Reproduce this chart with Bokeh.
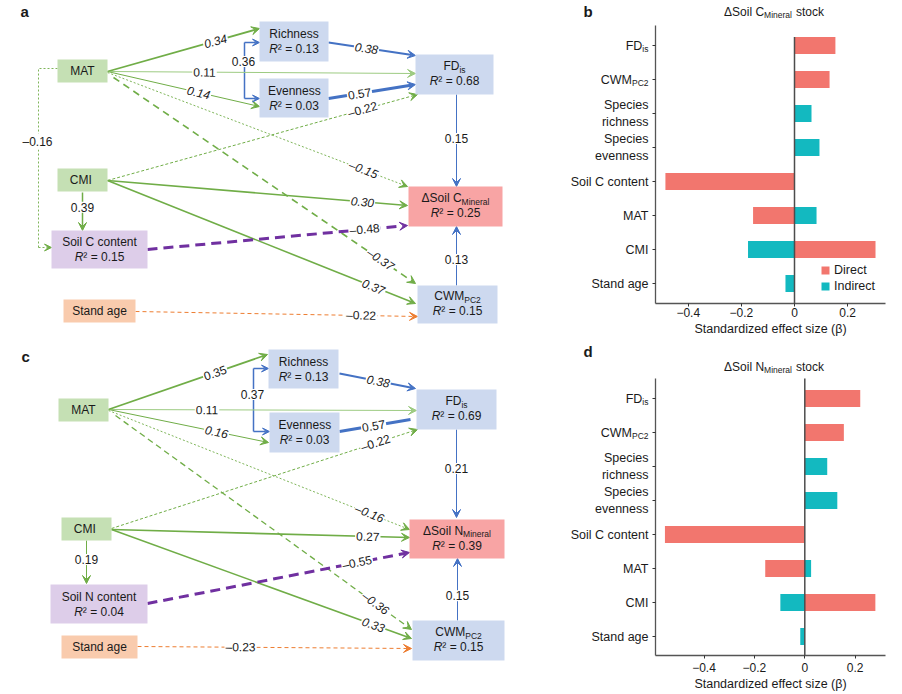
import math
from bokeh.plotting import figure
from bokeh.models import (Range1d, Arrow, VeeHead, ColumnDataSource, FixedTicker,
                          Legend, LegendItem)
from bokeh.layouts import row, column
from bokeh.embed import file_html
from bokeh.resources import INLINE
from bokeh.core.properties import value, field

FONT = "Liberation Sans"
TXT = "#1a1a1a"

# ---------------- data: bar charts (b, d) ----------------
bar_categories = ["FDis", "CWMPC2", "Species richness", "Species evenness",
                  "Soil C content", "MAT", "CMI", "Stand age"]
carbon_direct = [0.154, 0.132, 0.0, 0.0, -0.486, -0.156, 0.305, 0.0]
carbon_indirect = [0.0, 0.0, 0.064, 0.094, 0.0, 0.083, -0.175, -0.034]
nitrogen_direct = [0.22, 0.155, 0.0, 0.0, -0.555, -0.157, 0.28, 0.0]
nitrogen_indirect = [0.0, 0.0, 0.089, 0.129, 0.0, 0.025, -0.097, -0.018]
x_tick_values = [-0.4, -0.2, 0.0, 0.2]
x_tick_labels = ["\u22120.4", "\u22120.2", "0", "0.2"]

# ---------------- data: path models (a, c) ----------------
r2_a = {"Richness": 0.13, "Evenness": 0.03, "FD": 0.68, "Soil": 0.15, "Delta": 0.25, "CWM": 0.15}
coef_a = [0.34, 0.11, 0.14, -0.15, -0.37, 0.38, 0.57, -0.22, 0.15, 0.30, 0.37, 0.39, -0.48, 0.13, -0.22]
coef_a_mat_soil = -0.16
coef_a_rich_even = 0.36

r2_c = {"Richness": 0.13, "Evenness": 0.03, "FD": 0.69, "Soil": 0.04, "Delta": 0.39, "CWM": 0.15}
coef_c = [0.35, 0.11, 0.16, -0.16, -0.36, 0.38, 0.57, -0.22, 0.21, 0.27, 0.33, 0.19, -0.55, 0.15, -0.23]
coef_c_rich_even = 0.37

# ---------------- styles ----------------
GREEN, LGREEN, BLUE, PURPLE, ORANGE = "#70AD47", "#9DCB82", "#4472C4", "#7030A0", "#ED7D31"
B_GREEN, B_BLUE, B_PURPLE, B_PEACH, B_RED = "#C5E0B4", "#CDD9EF", "#DDCDE9", "#F9CBAD", "#F8A4A4"
BAR_RED, BAR_TEAL = "#F2766E", "#13B9C0"

AW = {' ': .278, '.': .278, '=': .584, '\u00b2': .333, '\u2013': .556, '\u2212': .584, '\u0394': .668,
      'A': .667, 'C': .722, 'D': .722, 'F': .611, 'M': .833, 'N': .722, 'P': .667, 'R': .722,
      'S': .667, 'W': .944, 'a': .556, 'c': .5, 'e': .556, 'i': .222, 'k': .5, 'l': .222,
      'n': .556, 'o': .556, 'r': .333, 's': .5, 't': .278}


def tw(s, size):
    return sum(AW.get(ch, 0.556) for ch in s) * size


def fmt(v):
    return ("\u2013" if v < 0 else "") + f"{abs(v):.2f}"


def new_items():
    return dict(x=[], y=[], text=[], size=[], style=[], align=[])


def put(items, x, y, t, s, st="normal", al="left"):
    items["x"].append(x)
    items["y"].append(y)
    items["text"].append(t)
    items["size"].append(f"{s}px")
    items["style"].append(st)
    items["align"].append(al)


def rich(items, cx, y, parts):
    total = sum(tw(t, s) for t, s, st, dy in parts)
    x = cx - total / 2
    for t, s, st, dy in parts:
        put(items, x, y + dy, t, s, st)
        x += tw(t, s)


def draw_items(p, items):
    p.text(x="x", y="y", text="text", source=ColumnDataSource(items), text_font=value(FONT),
           text_font_size=field("size"), text_font_style=field("style"), text_align=field("align"),
           text_baseline="middle", text_color=TXT)


def make_path(top, bottom, nodes, node_lines, r2, edges, coefs, letter, letter_pos,
              connector, connector_coef, elbow=None, elbow_coef=None, elbow_label=None):
    p = figure(width=560, height=bottom - top, x_range=Range1d(0, 560), y_range=Range1d(bottom, top),
               x_axis_type=None, y_axis_type=None, toolbar_location=None, output_backend="svg",
               min_border=0, title=None)
    p.outline_line_color = None
    names = list(nodes)
    p.quad(left=[nodes[n][0] for n in names], right=[nodes[n][2] for n in names],
           top=[nodes[n][1] for n in names], bottom=[nodes[n][3] for n in names],
           fill_color=[nodes[n][4] for n in names], line_color=None)

    items = new_items()
    for n in names:
        x0, y0, x1, y1, _ = nodes[n]
        cx, cy = (x0 + x1) / 2, (y0 + y1) / 2
        parts = node_lines[n]
        if n in r2:
            sub = len(parts) > 1
            rich(items, cx, cy - (8.5 if sub else 7.5), parts)
            rich(items, cx, cy + (6.5 if sub else 7.5),
                 [("R", 12, "italic", 0), ("\u00b2 = " + f"{r2[n]:.2f}", 12, "normal", 0)])
        else:
            rich(items, cx, cy, parts)
    put(items, letter_pos[0], letter_pos[1], letter, 15, "bold")
    draw_items(p, items)

    lab = dict(x=[], y=[], text=[], style=[], angle=[])
    for (x0, y0, x1, y1, col, w, dash, t, ital, head), c in zip(edges, coefs):
        end = VeeHead(size=8, line_color=col, fill_color=col, line_width=1) if head else None
        p.add_layout(Arrow(end=end, x_start=x0, y_start=y0, x_end=x1, y_end=y1,
                           line_color=col, line_width=w, line_dash=dash, level="underlay"))
        lab["x"].append(x0 + t * (x1 - x0))
        lab["y"].append(y0 + t * (y1 - y0))
        lab["text"].append(fmt(c))
        lab["style"].append("italic" if ital else "normal")
        lab["angle"].append(0.0 if abs(x1 - x0) < 2 else math.atan2(-(y1 - y0), x1 - x0))

    cxp, ya, yb, xr_a, xr_b, ly = connector
    p.line([cxp, cxp], [ya, yb], line_color=BLUE, line_width=1.5, level="underlay")
    for yy, xe in ((ya, xr_a), (yb, xr_b)):
        p.add_layout(Arrow(end=VeeHead(size=7, line_color=BLUE, fill_color=BLUE, line_width=1),
                           x_start=cxp, y_start=yy, x_end=xe, y_end=yy, line_color=BLUE,
                           line_width=1.5, level="underlay"))
    lab["x"].append(cxp - 1); lab["y"].append(ly); lab["text"].append(fmt(connector_coef))
    lab["style"].append("normal"); lab["angle"].append(0.0)

    if elbow is not None:
        ex, ey = elbow
        p.line(ex[:-1], ey[:-1], line_color=GREEN, line_width=0.9, line_dash="2 2", level="underlay")
        p.add_layout(Arrow(end=VeeHead(size=7, line_color=GREEN, fill_color=GREEN, line_width=1),
                           x_start=ex[-2], y_start=ey[-2], x_end=ex[-1], y_end=ey[-1],
                           line_color=GREEN, line_width=0.9, line_dash="2 2", level="underlay"))
        lab["x"].append(elbow_label[0]); lab["y"].append(elbow_label[1])
        lab["text"].append(fmt(elbow_coef)); lab["style"].append("normal"); lab["angle"].append(0.0)

    p.text(x="x", y="y", text="text", angle="angle", source=ColumnDataSource(lab),
           text_font=value(FONT), text_font_size="12px", text_font_style=field("style"),
           text_align="center", text_baseline="middle", text_color=TXT,
           background_fill_color="white", padding=1)
    return p


def make_bar(top, bottom, zero_px, ppu_x, row0_px, ftop, fbot, zero_top, title_y,
             direct, indirect, letter, element, legend):
    def fx(px):
        return (px - zero_px) / ppu_x

    def fy(py):
        return (py - row0_px) / 34.0

    p = figure(width=342, height=bottom - top, x_range=Range1d(fx(560), fx(902)),
               y_range=Range1d(fy(bottom), fy(top)), toolbar_location=None,
               output_backend="svg", title=None, min_border=0)
    p.outline_line_color = None
    p.grid.visible = False
    idx = list(range(len(bar_categories)))
    src = ColumnDataSource(dict(y=idx, d=direct, i=indirect, zero=[0.0] * len(idx)))
    r1 = p.hbar(y="y", left="zero", right="d", height=0.5, source=src, fill_color=BAR_RED, line_color=None)
    r2 = p.hbar(y="y", left="zero", right="i", height=0.5, source=src, fill_color=BAR_TEAL, line_color=None)
    p.segment(x0=[0.0], y0=[fy(zero_top)], x1=[0.0], y1=[fy(fbot)], line_color="#4d4d4d", line_width=1.5)

    xa, ya = p.xaxis[0], p.yaxis[0]
    xa.fixed_location = fy(fbot)
    xa.bounds = (fx(655), fx(885))
    ya.fixed_location = fx(655)
    ya.bounds = (fy(ftop), fy(fbot))
    xa.ticker = FixedTicker(ticks=x_tick_values)
    xa.major_label_overrides = {v: l for v, l in zip(x_tick_values, x_tick_labels)}
    ya.ticker = FixedTicker(ticks=idx)
    ov = {}
    for k, name in enumerate(bar_categories):
        if name in ("FDis", "CWMPC2"):
            ov[k] = ""
        elif name.startswith("Species"):
            ov[k] = name.replace(" ", "\n")
        else:
            ov[k] = name
    ya.major_label_overrides = ov
    for ax in (xa, ya):
        ax.axis_line_color = "#555555"
        ax.axis_line_width = 1.3
        ax.major_tick_line_color = "#333333"
        ax.major_tick_in = 0
        ax.major_tick_out = 3
        ax.minor_tick_line_color = None
        ax.major_label_text_font = FONT
        ax.major_label_text_color = TXT
    xa.major_label_text_font_size = "12px"
    ya.major_label_text_font_size = "12.5px"
    xa.major_label_standoff = 1 if legend else 4
    ya.major_label_standoff = 4
    xa.axis_label = "Standardized effect size (\u03b2)"
    xa.axis_label_text_font = FONT
    xa.axis_label_text_font_size = "12.5px"
    xa.axis_label_text_font_style = "normal"
    xa.axis_label_text_color = TXT
    xa.axis_label_standoff = 2

    items = new_items()
    for k, (main, sub) in ((0, ("FD", "is")), (1, ("CWM", "PC2"))):
        put(items, fx(648 - tw(sub, 8.5)), k, main, 12.5, "normal", "right")
        put(items, fx(648), k + 3.5 / 34.0, sub, 8.5, "normal", "right")
    parts = [("\u0394Soil " + element, 12, 0, 0.0), ("Mineral", 8.5, 3, 0.0), ("stock", 12, 0, 4.0)]
    total = sum(tw(t, s) + g for t, s, d, g in parts)
    x = 773.5 - total / 2
    for t, s, d, g in parts:
        x += g
        put(items, fx(x), fy(title_y + d), t, s)
        x += tw(t, s)
    put(items, fx(583), fy(top + 11), letter, 15, "bold")
    draw_items(p, items)

    if legend:
        leg = Legend(items=[LegendItem(label="Direct", renderers=[r1]),
                            LegendItem(label="Indirect", renderers=[r2])],
                     location=(260, 47), background_fill_alpha=0, border_line_color=None,
                     label_text_font=FONT, label_text_font_size="12.5px", label_text_color=TXT,
                     glyph_width=10, glyph_height=10, label_height=12, spacing=2, padding=0,
                     margin=0, label_standoff=4)
        p.add_layout(leg)
    return p


# ---------------- layouts of the path diagrams (reference pixel positions) ----------------
nodes_a = {
    "MAT": (57, 59, 107, 82, B_GREEN), "Richness": (259, 21, 328, 61, B_BLUE),
    "Evenness": (259, 78, 328, 117, B_BLUE), "FD": (415, 54, 493, 94, B_BLUE),
    "CMI": (57, 168, 107, 191, B_GREEN), "Soil": (51, 230, 147, 268, B_PURPLE),
    "Stand": (63, 299, 135, 322, B_PEACH), "Delta": (408, 186, 502, 226, B_RED),
    "CWM": (417, 285, 497, 323, B_BLUE),
}
nodes_c = {
    "MAT": (58, 398, 108, 421, B_GREEN), "Richness": (268, 349, 338, 388, B_BLUE),
    "Evenness": (269, 412, 339, 452, B_BLUE), "FD": (416, 389, 496, 429, B_BLUE),
    "CMI": (61, 517, 111, 540, B_GREEN), "Soil": (50, 584, 147, 623, B_PURPLE),
    "Stand": (61, 635, 137, 658, B_PEACH), "Delta": (409, 519, 504, 558, B_RED),
    "CWM": (412, 620, 504, 660, B_BLUE),
}


def node_lines(el):
    return {
        "MAT": [("MAT", 12, "normal", 0)], "CMI": [("CMI", 12, "normal", 0)],
        "Stand": [("Stand age", 12, "normal", 0)],
        "Richness": [("Richness", 12, "normal", 0)], "Evenness": [("Evenness", 12, "normal", 0)],
        "FD": [("FD", 12, "normal", 0), ("is", 8.5, "normal", 3.5)],
        "CWM": [("CWM", 12, "normal", 0), ("PC2", 8.5, "normal", 3.5)],
        "Soil": [(f"Soil {el} content", 12, "normal", 0)],
        "Delta": [("\u0394Soil " + el, 12, "normal", 0), ("Mineral", 8.5, "normal", 3.5)],
    }


edges_a = [
    (107, 71, 259, 28, GREEN, 1.8, "solid", 0.71, True, True),
    (107, 71, 415, 73, LGREEN, 1.0, "solid", 0.315, False, True),
    (107, 71, 259, 106, GREEN, 1.0, "solid", 0.60, True, True),
    (107, 72, 407, 186, GREEN, 0.9, "2 2", 0.853, True, True),
    (113, 77, 415, 283, GREEN, 1.6, "7 5", 0.884, True, True),
    (328, 42, 415, 55, BLUE, 2.0, "solid", 0.437, True, True),
    (328, 98, 415, 84, BLUE, 3.0, "solid", 0.356, False, True),
    (107, 180, 417, 94, GREEN, 1.0, "3 2", 0.823, False, True),
    (456, 94, 456, 186, BLUE, 1.0, "solid", 0.478, False, True),
    (107, 180, 407, 205, GREEN, 1.6, "solid", 0.85, True, True),
    (107, 180, 415, 303, GREEN, 1.6, "solid", 0.864, True, True),
    (82, 192, 82, 230, GREEN, 1.5, "solid", 0.39, False, True),
    (147, 249, 407, 225, PURPLE, 3.0, "10 6", 0.835, False, True),
    (456, 285, 456, 226, BLUE, 1.0, "solid", 0.44, False, True),
    (135, 311, 417, 316, ORANGE, 1.0, "4 3", 0.80, False, True),
]
edges_c = [
    (108, 409, 267, 354, GREEN, 1.8, "solid", 0.67, False, True),
    (108, 409, 416, 410, LGREEN, 1.0, "solid", 0.32, False, True),
    (108, 409, 268, 442, GREEN, 1.0, "solid", 0.675, True, True),
    (108, 410, 409, 529, GREEN, 0.9, "2 2", 0.867, True, True),
    (115, 415, 411, 629, GREEN, 1.3, "6 4", 0.878, True, True),
    (339, 373, 415, 388, BLUE, 2.0, "solid", 0.51, True, True),
    (339, 431, 410, 419, BLUE, 3.0, "solid", 0.48, False, False),
    (111, 528, 417, 429, GREEN, 1.0, "3 2", 0.863, False, True),
    (456, 429, 456, 517, BLUE, 1.0, "solid", 0.443, False, True),
    (111, 529, 409, 537, GREEN, 1.6, "solid", 0.86, False, True),
    (111, 529, 411, 638, GREEN, 1.6, "solid", 0.873, True, True),
    (86, 540, 86, 583, GREEN, 1.0, "solid", 0.44, False, True),
    (147, 603, 409, 552, PURPLE, 3.0, "10 6", 0.80, False, True),
    (457, 620, 457, 558, BLUE, 1.0, "solid", 0.40, False, True),
    (137, 646, 411, 648, ORANGE, 1.0, "4 3", 0.376, False, True),
]

pa = make_path(0, 340, nodes_a, node_lines("C"), r2_a, edges_a, coef_a, "a", (20, 11),
               (244, 42, 98, 259, 259, 61), coef_a_rich_even,
               elbow=([57, 38, 38, 51], [68, 68, 247, 247]), elbow_coef=coef_a_mat_soil,
               elbow_label=(37, 141))
pc = make_path(340, 694, nodes_c, node_lines("N"), r2_c, edges_c, coef_c, "c", (21, 356),
               (253, 368, 431, 268, 269, 394), coef_c_rich_even)
pb = make_bar(0, 340, 794.0, 265.6, 45.0, 25, 303, 36.5, 11,
              carbon_direct, carbon_indirect, "b", "C", True)
pd = make_bar(340, 694, 804.3, 252.0, 398.0, 378, 655, 378, 366,
              nitrogen_direct, nitrogen_indirect, "d", "N", False)

layout = column(row(pa, pb), row(pc, pd))
open("out.html", "w").write(file_html(layout, INLINE))
